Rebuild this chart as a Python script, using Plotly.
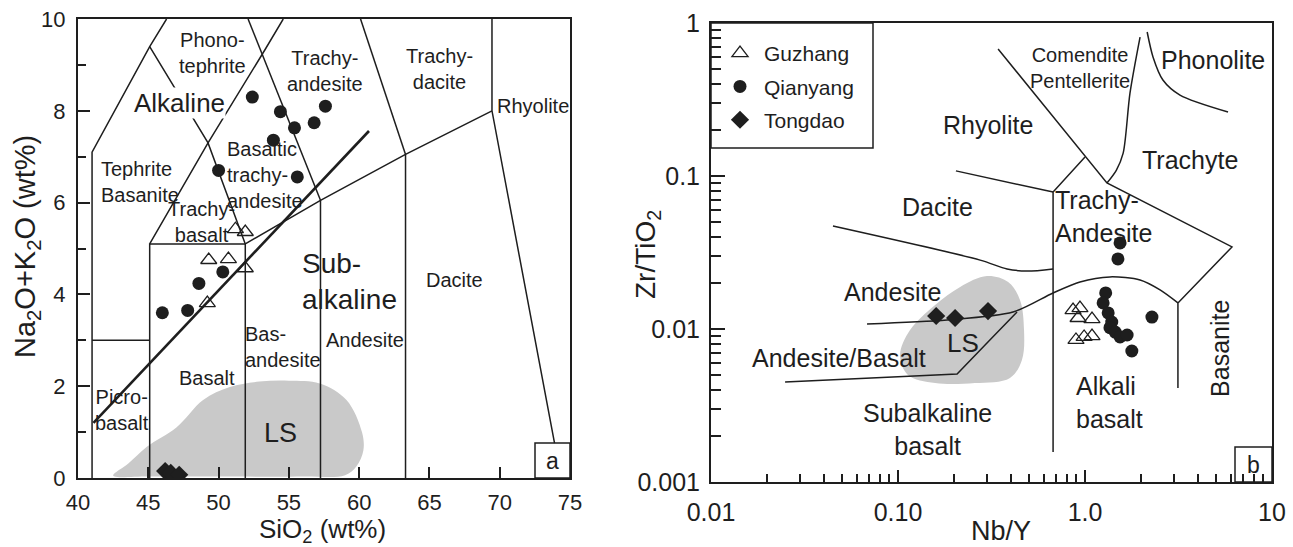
import numpy as np
import plotly.graph_objects as go

W, H = 1293, 547
FONT = "Liberation Sans, Arial, sans-serif"
INK = "#1e1e1e"
GRAY = "#c9c9c9"

# ---------------- Panel a (TAS) data ----------------
gz_sio2 = [51.2, 51.9, 49.3, 50.7, 51.9, 49.2]
gz_alk = [5.42, 5.36, 4.75, 4.77, 4.57, 3.81]
qy_sio2 = [52.4, 54.4, 55.4, 56.8, 57.6, 53.9, 50.0, 55.6, 50.3, 48.6, 46.0, 47.8]
qy_alk = [8.30, 7.98, 7.63, 7.74, 8.10, 7.36, 6.70, 6.56, 4.49, 4.24, 3.60, 3.65]
td_sio2 = [46.2, 46.6, 47.2]
td_alk = [0.15, 0.11, 0.07]

# TAS field boundaries (SiO2, Na2O+K2O)
tas_bounds = [
    ([41.0, 41.0, 45.1, 46.3], [0, 7.1, 9.4, 10.0]),
    ([41.0, 45.1], [3.0, 3.0]),
    ([45.1, 45.1, 51.9, 51.9], [0, 5.1, 5.1, 0]),
    ([45.1, 49.25, 53.3, 54.6], [5.1, 7.3, 9.33, 10.0]),
    ([45.1, 49.25, 51.9], [9.4, 7.3, 5.1]),
    ([52.1, 57.25], [10.0, 6.05]),
    ([57.25, 57.25], [0, 6.05]),
    ([51.9, 57.25, 63.3, 69.45], [5.1, 6.05, 7.05, 8.0]),
    ([60.1, 63.3], [10.0, 7.05]),
    ([63.3, 63.3], [0, 7.05]),
    ([69.45, 69.45, 73.9], [10.0, 8.0, 0.76]),
]
alk_line_x = [41.1, 60.7]
alk_line_y = [1.2, 7.56]

ls_a_x = [42.5, 43.6, 44.9, 47.0, 48.9, 50.8, 52.9, 55.0, 57.2, 59.1, 60.2, 60.3, 59.8, 59.0, 56.0, 50.0, 45.0, 42.6]
ls_a_y = [0.06, 0.32, 0.68, 1.10, 1.70, 1.98, 2.10, 2.12, 2.06, 1.70, 1.00, 0.60, 0.25, 0.06, 0.03, 0.03, 0.03, 0.03]

tas_labels = [
    ("Phono-<br>tephrite", 49.6, 9.26, 20, "center"),
    ("Trachy-<br>andesite", 57.6, 8.87, 20, "center"),
    ("Trachy-<br>dacite", 65.7, 8.9, 20, "center"),
    ("Rhyolite", 72.35, 8.1, 20, "center"),
    ("Tephrite<br>Basanite", 44.4, 6.45, 20, "left"),
    ("Basaltic<br>trachy-<br>andesite", 53.3, 6.6, 20, "left"),
    ("Trachy-<br>basalt", 48.8, 5.58, 20, "center"),
    ("Sub-<br>alkaline", 59.3, 4.29, 28, "left"),
    ("Dacite", 66.8, 4.31, 20, "center"),
    ("Andesite", 60.4, 3.0, 20, "center"),
    ("Bas-<br>andesite", 54.6, 2.86, 20, "left"),
    ("Basalt", 49.2, 2.18, 20, "center"),
    ("Picro-<br>basalt", 43.1, 1.48, 20, "center"),
    ("LS", 54.4, 0.98, 27, "center"),
]

# ---------------- Panel b (Nb/Y vs Zr/TiO2) data ----------------
gz_nby = [0.863, 0.940, 0.918, 1.09, 0.895, 0.989, 1.09]
gz_zrti = [0.0133, 0.0137, 0.0118, 0.0116, 0.00848, 0.00887, 0.00899]
qy_nby = [1.54, 1.50, 1.29, 1.25, 1.33, 1.39, 1.36, 1.45, 1.54, 1.68, 1.78, 2.28]
qy_zrti = [0.0365, 0.0287, 0.0172, 0.0148, 0.01274, 0.0111, 0.0102, 0.00955, 0.00887, 0.00914, 0.00718, 0.01197]
td_nby = [0.160, 0.202, 0.303]
td_zrti = [0.01216, 0.0118, 0.0131]

wf_straight = [
    ([0.343, 1.31, 6.11, 3.14, 3.14], [0.676, 0.090, 0.0344, 0.0148, 0.00411]),
    ([1.0, 0.675, 0.675], [0.133, 0.0785, 0.00157]),
    ([0.204, 0.675], [0.108, 0.0785]),
    ([0.0249, 0.207, 0.310, 0.433], [0.00451, 0.00508, 0.00848, 0.0129]),
]
wf_curved = [
    ([0.0449, 0.275, 0.383, 0.490, 0.675], [0.0471, 0.0282, 0.0247, 0.0239, 0.0247]),
    ([1.97, 1.74, 1.60, 1.47, 1.31], [0.809, 0.348, 0.141, 0.109, 0.090]),
    ([2.15, 2.31, 2.61, 3.22, 5.82], [0.873, 0.600, 0.424, 0.338, 0.262]),
    ([0.0683, 0.183, 0.412, 0.675, 0.940, 1.36, 1.97, 2.52, 3.14],
     [0.0108, 0.01146, 0.0129, 0.0172, 0.0203, 0.0219, 0.0209, 0.0180, 0.0148]),
]
ls_b_x = [0.299, 0.388, 0.449, 0.472, 0.460, 0.397, 0.258, 0.158, 0.113, 0.1026, 0.116, 0.158, 0.215]
ls_b_y = [0.0222, 0.0203, 0.0155, 0.00984, 0.00627, 0.00479, 0.00443, 0.00443, 0.00500, 0.00676, 0.00984, 0.01436, 0.01884]

wf_labels = [
    ("Comendite<br>Pentellerite", 0.94, 0.508, 20, "center", 0),
    ("Phonolite", 4.83, 0.573, 25, "center", 0),
    ("Rhyolite", 0.303, 0.215, 25, "center", 0),
    ("Trachyte", 3.64, 0.127, 25, "center", 0),
    ("Dacite", 0.162, 0.0627, 25, "center", 0),
    ("Trachy-<br>Andesite", 1.25, 0.054, 25, "left", 0),
    ("Andesite", 0.0929, 0.01746, 25, "center", 0),
    ("Andesite/Basalt", 0.0483, 0.00645, 25, "center", 0),
    ("LS", 0.223, 0.00809, 26, "center", 0),
    ("Subalkaline<br>basalt", 0.143, 0.00219, 25, "center", 0),
    ("Alkali<br>basalt", 1.36, 0.00333, 25, "left", 0),
    ("Basanite", 5.27, 0.00752, 25, "center", -90),
]

x_major_b = [0.01, 0.1, 1, 10]
x_major_b_text = ["0.01", "0.10", "1.0", "10"]
y_major_b = [0.001, 0.01, 0.1, 1]
y_major_b_text = ["0.001", "0.01", "0.1", "1"]


def join(polys):
    xs, ys = [], []
    for px_, py_ in polys:
        xs += list(px_) + [None]
        ys += list(py_) + [None]
    return xs, ys


def fx(px):
    return px / W


def fy(py):
    return 1 - py / H


fig = go.Figure()

# ---- panel a ----
fig.add_trace(go.Scatter(x=ls_a_x + [ls_a_x[0]], y=ls_a_y + [ls_a_y[0]], mode="lines",
                         line=dict(color=GRAY, width=0, shape="spline", smoothing=1.0),
                         fill="toself", fillcolor=GRAY, hoverinfo="skip", showlegend=False,
                         xaxis="x", yaxis="y"))
bx, by = join(tas_bounds)
fig.add_trace(go.Scatter(x=bx, y=by, mode="lines", line=dict(color=INK, width=1.5),
                         hoverinfo="skip", showlegend=False, xaxis="x", yaxis="y"))
fig.add_trace(go.Scatter(x=alk_line_x, y=alk_line_y, mode="lines", line=dict(color=INK, width=2.6),
                         hoverinfo="skip", showlegend=False, xaxis="x", yaxis="y"))

# ---- panel b ----
fig.add_trace(go.Scatter(x=ls_b_x + [ls_b_x[0]], y=ls_b_y + [ls_b_y[0]], mode="lines",
                         line=dict(color=GRAY, width=0, shape="spline", smoothing=1.0),
                         fill="toself", fillcolor=GRAY, hoverinfo="skip", showlegend=False,
                         xaxis="x2", yaxis="y2"))
sx, sy = join(wf_straight)
fig.add_trace(go.Scatter(x=sx, y=sy, mode="lines", line=dict(color=INK, width=1.5),
                         hoverinfo="skip", showlegend=False, xaxis="x2", yaxis="y2"))
for cx, cy in wf_curved:
    fig.add_trace(go.Scatter(x=cx, y=cy, mode="lines",
                             line=dict(color=INK, width=1.5, shape="spline", smoothing=0.8),
                             hoverinfo="skip", showlegend=False, xaxis="x2", yaxis="y2"))

tri = dict(symbol="triangle-up-open", size=14, color=INK, line=dict(color=INK, width=1.3))
cir = dict(symbol="circle", size=13, color=INK)
dia = dict(symbol="diamond", size=14, color=INK)

series = [
    ("Guzhang", gz_sio2, gz_alk, gz_nby, gz_zrti, tri),
    ("Qianyang", qy_sio2, qy_alk, qy_nby, qy_zrti, cir),
    ("Tongdao", td_sio2, td_alk, td_nby, td_zrti, dia),
]
for name, xa, ya, xb, yb, mk in series:
    fig.add_trace(go.Scatter(x=xa, y=ya, mode="markers", marker=mk, name=name,
                             legendgroup=name, showlegend=False, xaxis="x", yaxis="y"))
    fig.add_trace(go.Scatter(x=xb, y=yb, mode="markers", marker=mk, name=name,
                             legendgroup=name, showlegend=True, xaxis="x2", yaxis="y2"))

annotations = []
for t, x, y, s, al in tas_labels:
    annotations.append(dict(text=t, x=x, y=y, xref="x", yref="y", showarrow=False, align=al,
                            xanchor="center", yanchor="middle",
                            font=dict(size=s, family=FONT, color=INK)))
annotations.append(dict(text="Alkaline", x=47.25, y=8.17, xref="x", yref="y", showarrow=False,
                        xanchor="center", yanchor="middle",
                        font=dict(size=26, family=FONT, color=INK), bgcolor="white", borderpad=0))
for t, x, y, s, al, ang in wf_labels:
    annotations.append(dict(text=t, x=np.log10(x), y=np.log10(y), xref="x2", yref="y2",
                            showarrow=False, align=al, textangle=ang,
                            xanchor="center", yanchor="middle",
                            font=dict(size=s, family=FONT, color=INK)))

# axis titles and panel tags
paper_texts = [
    ("SiO<sub>2</sub> (wt%)", 322, 530, 26, 0),
    ("Na<sub>2</sub>O+K<sub>2</sub>O (wt%)", 27, 247, 29, -90),
    ("Nb/Y", 1001, 531, 27, 0),
    ("Zr/TiO<sub>2</sub>", 647, 255, 28, -90),
    ("a", 552.5, 460.5, 23, 0),
    ("b", 1253.5, 464.5, 23, 0),
]
for t, px, py, s, ang in paper_texts:
    annotations.append(dict(text=t, x=fx(px), y=fy(py), xref="paper", yref="paper",
                            xanchor="center", yanchor="middle", showarrow=False, textangle=ang,
                            font=dict(size=s, family=FONT, color=INK)))

shapes = [
    dict(type="rect", xref="paper", yref="paper", x0=fx(535), x1=fx(570), y0=fy(478), y1=fy(443),
         line=dict(color=INK, width=1.5)),
    dict(type="rect", xref="paper", yref="paper", x0=fx(1235), x1=fx(1272), y0=fy(482), y1=fy(447),
         line=dict(color=INK, width=1.5)),
    dict(type="rect", xref="paper", yref="paper", x0=fx(711), x1=fx(873), y0=fy(148), y1=fy(23),
         line=dict(color=INK, width=1.5)),
]

axis_common = dict(showline=True, mirror=True, linecolor=INK, linewidth=2, showgrid=False,
                   zeroline=False, ticks="inside", tickcolor=INK, tickwidth=1.5, automargin=False,
                   tickfont=dict(size=22, family=FONT, color=INK))

fig.update_layout(
    template="none",
    width=W, height=H, margin=dict(l=0, r=0, t=0, b=0, pad=0, autoexpand=False),
    paper_bgcolor="white", plot_bgcolor="white",
    xaxis=dict(domain=[fx(78), fx(570)], range=[40, 75], anchor="y",
               tickmode="array", tickvals=[40, 45, 50, 55, 60, 65, 70, 75], ticklen=11,
               ticklabelstandoff=4, **axis_common),
    yaxis=dict(domain=[fy(478), fy(19)], range=[0, 10], anchor="x",
               tickmode="array", tickvals=[0, 2, 4, 6, 8, 10], ticklen=12,
               minor=dict(ticks="inside", tickvals=[1, 3, 5, 7, 9], ticklen=8, tickcolor=INK, tickwidth=1.5),
               ticklabelstandoff=6, **axis_common),
    xaxis2=dict(domain=[fx(711), fx(1272)], type="log", range=[-2, 1], anchor="y2",
                tickmode="array", tickvals=x_major_b, ticktext=x_major_b_text, ticklen=12,
                minor=dict(ticks="inside", ticklen=8, tickcolor=INK, tickwidth=1.5,
                           tickvals=[0.02, 0.03, 0.04, 0.05, 0.06, 0.07, 0.08, 0.09,
                                     0.2, 0.3, 0.4, 0.5, 0.6, 0.7, 0.8, 0.9,
                                     2, 3, 4, 5, 6, 7, 8, 9]),
                ticklabelstandoff=7, **{**axis_common, "tickfont": dict(size=25, family=FONT, color=INK)}),
    yaxis2=dict(domain=[fy(482), fy(23)], type="log", range=[-3, 0], anchor="x2",
                tickmode="array", tickvals=y_major_b, ticktext=y_major_b_text, ticklen=14,
                minor=dict(ticks="inside", ticklen=10, tickcolor=INK, tickwidth=1.5,
                           tickvals=[0.002, 0.003, 0.004, 0.005, 0.006, 0.007, 0.008, 0.009,
                                     0.02, 0.03, 0.04, 0.05, 0.06, 0.07, 0.08, 0.09,
                                     0.2, 0.3, 0.4, 0.5, 0.6, 0.7, 0.8, 0.9]),
                ticklabelstandoff=4, **{**axis_common, "tickfont": dict(size=25, family=FONT, color=INK)}),
    legend=dict(x=fx(716), y=fy(33), xanchor="left", yanchor="top", bgcolor="rgba(0,0,0,0)",
                borderwidth=0, font=dict(size=21, family=FONT, color=INK), tracegroupgap=3,
                itemwidth=38),
    annotations=annotations, shapes=shapes, showlegend=True,
)

fig.write_html("out.html", config={"displayModeBar": False},
               post_script="document.body.style.margin='0';document.body.style.overflow='hidden';")
